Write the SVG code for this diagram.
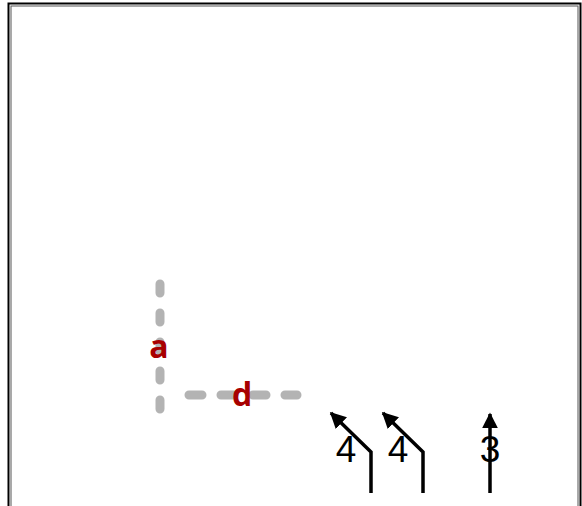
<svg xmlns="http://www.w3.org/2000/svg" width="582" height="506" viewBox="0 0 582 506">
<style>
.dash{fill:none;stroke:#b3b3b3;stroke-width:9;stroke-linecap:round}
.lbl{font-family:"Open Sans","Liberation Sans",sans-serif;font-weight:bold;fill:#a80000;font-size:32px;text-anchor:middle}
.arr{fill:none;stroke:#000;stroke-width:3.5;stroke-linejoin:miter}
.num{font-family:"Liberation Sans",Arial,sans-serif;font-size:37px;fill:#000;text-anchor:middle}
</style>
<defs>
<marker id="ah" viewBox="0 0 10 10" refX="9" refY="5" markerWidth="4.6" markerHeight="4.6" markerUnits="strokeWidth" orient="auto">
<path d="M0,0 L10,5 L0,10 Z" fill="#000"/>
</marker>
</defs>
<rect width="582" height="506" fill="#fff"/>
<g id="frame">
<rect x="8.5" y="3.5" width="572" height="520" fill="none" stroke="#000" stroke-width="2"/>
<rect x="11" y="6" width="567" height="520" fill="none" stroke="#555" stroke-width="1"/>
</g>
<g id="connectors">
<line class="dash" x1="160" y1="284" x2="160" y2="409" stroke-dasharray="9 20"/>
<line class="dash" x1="189" y1="395" x2="297" y2="395" stroke-dasharray="13 19"/>
<path class="arr" d="M371,493 V452 L331,413" marker-end="url(#ah)"/>
<path class="arr" d="M423,493 V452 L383,413" marker-end="url(#ah)"/>
<path class="arr" d="M490,493 V414" marker-end="url(#ah)"/>
</g>
<g id="label-a"><text class="lbl" x="159" y="358">a</text></g>
<g id="label-d"><text class="lbl" x="242" y="406">d</text></g>
<g id="lane1"><text class="num" x="346" y="462">4</text></g>
<g id="lane2"><text class="num" x="398" y="462">4</text></g>
<g id="lane3"><text class="num" x="490" y="462">3</text></g>
</svg>
